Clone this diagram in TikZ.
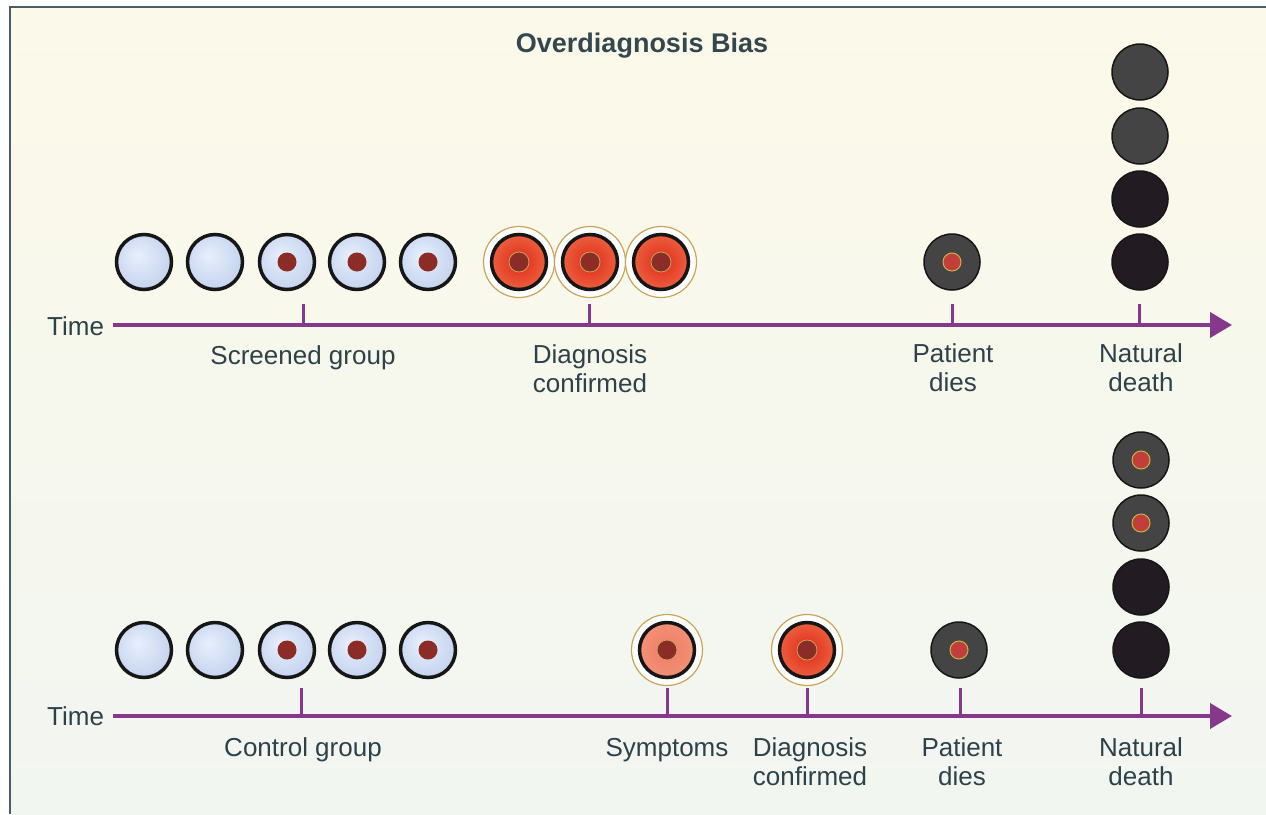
\documentclass[tikz,border=0pt]{standalone}
\usepackage{fontspec}
\setmainfont{Liberation Sans}
\usetikzlibrary{arrows.meta}
\definecolor{txtc}{HTML}{2E4149}
\definecolor{titlec}{HTML}{34474F}
\definecolor{axisc}{HTML}{86398A}
\definecolor{framec}{HTML}{4A5C66}
\definecolor{bgtop}{HTML}{FBF9E9}
\definecolor{bgbot}{HTML}{F2F6F1}
\definecolor{ringc}{HTML}{161616}
\definecolor{dotc}{HTML}{8C2C26}
\definecolor{golden}{HTML}{C9A458}
\definecolor{graycirc}{HTML}{444444}
\definecolor{blackcirc}{HTML}{221B22}
\definecolor{reddot}{HTML}{C23E3A}
\definecolor{rimc}{HTML}{C9B24A}
\definecolor{redin}{HTML}{DF2A18}
\definecolor{redout}{HTML}{F27650}
\definecolor{salin}{HTML}{EE7C64}
\definecolor{salout}{HTML}{F49A80}
\pgfdeclareradialshading{bluesh}{\pgfpoint{-6bp}{6bp}}{rgb(0bp)=(0.91,0.94,0.99); rgb(50bp)=(0.66,0.74,0.89)}
\tikzset{
  lbl/.style={font=\fontsize{26}{29}\selectfont, text=txtc, inner sep=0pt, anchor=base},
  axisline/.style={draw=axisc, line width=4pt, -{Triangle[length=22pt,width=25pt]}},
  tickline/.style={draw=axisc, line width=3pt},
  blueball/.style={circle, minimum size=55pt, inner sep=0pt, line width=3.5pt, draw=ringc, shade, shading=bluesh},
  bluedot/.style={blueball, path picture={\fill[dotc] (path picture bounding box.center) circle (9.5pt);}},
  redball/.style 2 args={circle, minimum size=71pt, inner sep=0pt, line width=1.2pt, draw=golden, fill=white,
    path picture={
      \begin{scope}
        \clip (path picture bounding box.center) circle (28pt);
        \fill[#2] (path picture bounding box.center) circle (28pt);
        \shade[inner color=#1, outer color=#2] (path picture bounding box.center) circle (40pt);
      \end{scope}
      \draw[ringc, line width=3.5pt] (path picture bounding box.center) circle (27.5pt);
      \fill[dotc, draw=golden, line width=0.8pt] (path picture bounding box.center) circle (10pt);}},
  grayball/.style={circle, minimum size=56pt, inner sep=0pt, fill=graycirc, draw=ringc, line width=1.5pt},
  blackball/.style={grayball, fill=blackcirc},
  darkdot/.style={grayball, path picture={\fill[reddot, draw=rimc, line width=1pt] (path picture bounding box.center) circle (9pt);}},
}
\begin{document}
\begin{tikzpicture}[x=1pt, y=-1pt]
\useasboundingbox (0,0) rectangle (1266,814);
\fill[white] (0,0) rectangle (1266,814);
\shade[top color=bgtop, bottom color=bgbot] (10,7) rectangle (1266,814);
\draw[framec, line width=2.5pt] (10,814) -- (10,7) -- (1266,7);

% title
\node[lbl, font=\bfseries\fontsize{27}{30}\selectfont, text=titlec] (title) at (642,52) {Overdiagnosis Bias};

% ---------- top timeline (screened group) ----------
\coordinate (aT0) at (113,325);
\coordinate (aT1) at (1232,325);
\draw[axisline] (aT0) -- (aT1);
\node[lbl, anchor=base west] (timeT) at (47,335) {Time};

\node[blueball] (sb1) at (144,262) {};
\node[blueball] (sb2) at (215,262) {};
\node[bluedot] (sb3) at (287,262) {};
\node[bluedot] (sb4) at (357,262) {};
\node[bluedot] (sb5) at (428,262) {};
\node[redball={redin}{redout}] (sr1) at (519,262) {};
\node[redball={redin}{redout}] (sr2) at (590,262) {};
\node[redball={redin}{redout}] (sr3) at (661,262) {};
\node[darkdot] (spd) at (952,262) {};
\node[grayball] (snd1) at (1140,72) {};
\node[grayball] (snd2) at (1140,136) {};
\node[blackball] (snd3) at (1140,199) {};
\node[blackball] (snd4) at (1140,262) {};

\coordinate (kT1) at (303,304);
\coordinate (kT2) at (589,304);
\coordinate (kT3) at (952,304);
\coordinate (kT4) at (1139,304);
\foreach \k in {kT1,kT2,kT3,kT4} \draw[tickline] (\k) -- (\k |- aT0);

\node[lbl] (lScr) at (303,364) {Screened group};
\node[lbl] (lDiag1) at (590,363) {Diagnosis};
\node[lbl] (lDiag2) at (590,392) {confirmed};
\node[lbl] (lPd1) at (953,362) {Patient};
\node[lbl] (lPd2) at (953,391) {dies};
\node[lbl] (lNd1) at (1141,362) {Natural};
\node[lbl] (lNd2) at (1141,391) {death};

% ---------- bottom timeline (control group) ----------
\coordinate (aB0) at (113,716);
\coordinate (aB1) at (1232,716);
\draw[axisline] (aB0) -- (aB1);
\node[lbl, anchor=base west] (timeB) at (47,725) {Time};

\node[blueball] (cb1) at (144,650) {};
\node[blueball] (cb2) at (215,650) {};
\node[bluedot] (cb3) at (287,650) {};
\node[bluedot] (cb4) at (357,650) {};
\node[bluedot] (cb5) at (428,650) {};
\node[redball={salin}{salout}] (csy) at (667,650) {};
\node[redball={redin}{redout}] (cdc) at (807,650) {};
\node[darkdot] (cpd) at (959,650) {};
\node[darkdot] (cnd1) at (1141,460) {};
\node[darkdot] (cnd2) at (1141,523) {};
\node[blackball] (cnd3) at (1141,587) {};
\node[blackball] (cnd4) at (1141,650) {};

\coordinate (kB1) at (301,688);
\coordinate (kB2) at (667,688);
\coordinate (kB3) at (807,688);
\coordinate (kB4) at (960,688);
\coordinate (kB5) at (1141,688);
\foreach \k in {kB1,kB2,kB3,kB4,kB5} \draw[tickline] (\k) -- (\k |- aB0);

\node[lbl] (lCtl) at (303,756) {Control group};
\node[lbl] (lSym) at (667,756) {Symptoms};
\node[lbl] (lDc1) at (810,756) {Diagnosis};
\node[lbl] (lDc2) at (810,785) {confirmed};
\node[lbl] (lPe1) at (962,756) {Patient};
\node[lbl] (lPe2) at (962,785) {dies};
\node[lbl] (lNa1) at (1141,756) {Natural};
\node[lbl] (lNa2) at (1141,785) {death};
\end{tikzpicture}
\end{document}
